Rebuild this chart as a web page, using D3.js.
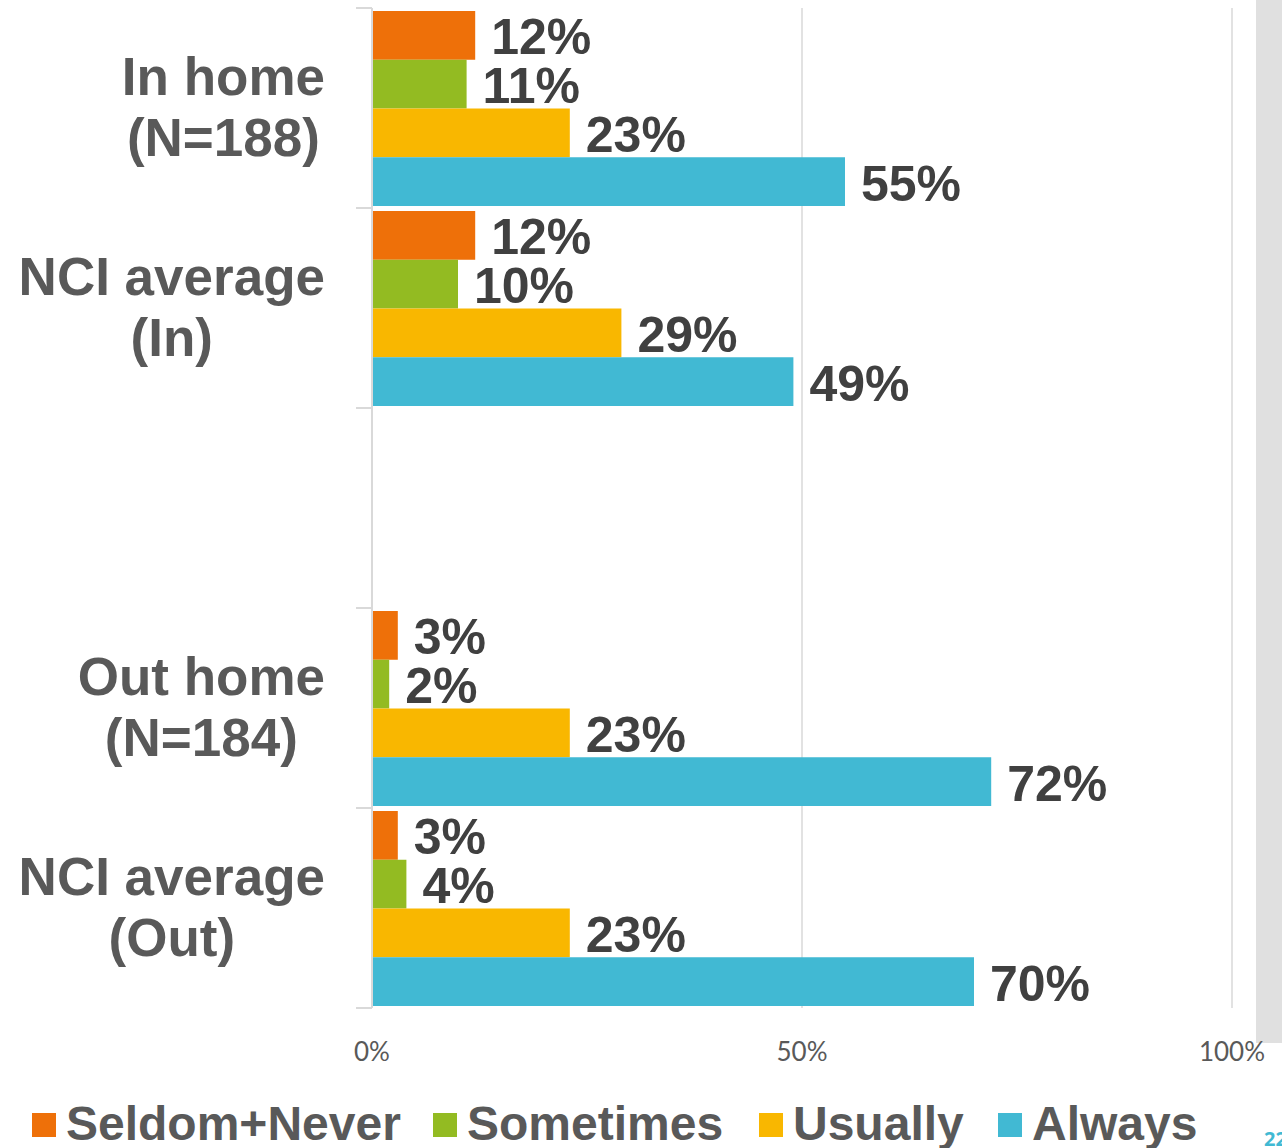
<!DOCTYPE html>
<html>
<head>
<meta charset="utf-8">
<script src="https://cdn.jsdelivr.net/npm/d3@7"></script>
<style>
  body { margin: 0; background: #fff; }
  svg { display: block; }
</style>
</head>
<body>
<script>
// categories (empty slot keeps the gap between the In and Out groups)
const categories = ["In home (N=188)", "NCI average (In)", "gap", "Out home (N=184)", "NCI average (Out)"];
const categoryLines = [["In home", "(N=188)"], ["NCI average", "(In)"], [], ["Out home", "(N=184)"], ["NCI average", "(Out)"]];
const seriesNames = ["Seldom+Never", "Sometimes", "Usually", "Always"];
const seldomNever = [12, 12, null, 3, 3];
const sometimes = [11, 10, null, 2, 4];
const usually = [23, 29, null, 23, 23];
const always = [55, 49, null, 72, 70];
const xTicks = [0, 50, 100];

const colors = ["#ee7009", "#93bb22", "#f9b700", "#41b9d3"];
const seriesValues = [seldomNever, sometimes, usually, always];

const width = 1282, height = 1148;
const svg = d3.select("body").append("svg")
    .attr("width", width)
    .attr("height", height);

// grey strip on the right edge
svg.append("rect")
    .attr("x", 1256).attr("y", 0)
    .attr("width", 26).attr("height", 1043)
    .attr("fill", "#e0e0e0");

const x = d3.scaleLinear().domain([0, 100]).range([372, 1232]);
const y = d3.scaleBand().domain(categories).range([8, 1008]);
const ySub = d3.scaleBand().domain(seriesNames).range([3, y.bandwidth() - 2]);

// gridlines
svg.append("g")
    .selectAll("line")
    .data(xTicks.filter(d => d > 0))
    .join("line")
    .attr("x1", d => x(d)).attr("x2", d => x(d))
    .attr("y1", 8).attr("y2", 1008)
    .attr("stroke", "#d9d9d9")
    .attr("stroke-width", 1.5);

// x tick labels
svg.append("g")
    .selectAll("text")
    .data(xTicks)
    .join("text")
    .attr("x", d => x(d))
    .attr("y", 1061)
    .attr("text-anchor", "middle")
    .attr("font-family", "Lato, 'Open Sans', sans-serif")
    .attr("font-size", 26)
    .attr("fill", "#595959")
    .text(d => d + "%");

// bars
const rows = [];
categories.forEach((c, i) => {
  seriesNames.forEach((s, j) => {
    const v = seriesValues[j][i];
    if (v != null) rows.push({cat: c, series: s, value: v, color: colors[j]});
  });
});

const bar = svg.append("g")
    .selectAll("g")
    .data(rows)
    .join("g")
    .attr("transform", d => `translate(0,${y(d.cat) + ySub(d.series)})`);

bar.append("rect")
    .attr("x", x(0))
    .attr("y", 0)
    .attr("width", d => x(d.value) - x(0))
    .attr("height", ySub.bandwidth())
    .attr("fill", d => d.color);

bar.append("text")
    .attr("x", d => x(d.value) + 16)
    .attr("y", ySub.bandwidth() / 2 + 19)
    .attr("font-family", "'Liberation Sans', Arial, sans-serif")
    .attr("font-weight", "bold")
    .attr("font-size", 50)
    .attr("fill", "#404040")
    .text(d => d.value + "%");

// category axis line + ticks at band edges
const axis = svg.append("g").attr("stroke", "#d9d9d9").attr("stroke-width", 2);
axis.append("line")
    .attr("x1", x(0)).attr("x2", x(0))
    .attr("y1", y.range()[0]).attr("y2", y.range()[1]);
axis.selectAll("line.tick")
    .data(categories.map(c => y(c)).concat([y.range()[1]]))
    .join("line")
    .attr("class", "tick")
    .attr("x1", x(0) - 16).attr("x2", x(0))
    .attr("y1", d => d).attr("y2", d => d);

// category labels: block right-aligned at 325, lines centred within it
const labelRight = 325;
svg.append("g")
    .selectAll("text")
    .data(categories)
    .join("text")
    .attr("text-anchor", "middle")
    .attr("font-family", "'Liberation Sans', Arial, sans-serif")
    .attr("font-weight", "bold")
    .attr("font-size", 53)
    .attr("fill", "#595959")
    .each(function(c, i) {
      const lines = categoryLines[i];
      const cy = y(c) + y.bandwidth() / 2;
      const spans = d3.select(this).selectAll("tspan")
        .data(lines)
        .join("tspan")
        .attr("y", (d, k) => cy + (k - (lines.length - 1) / 2) * 61 + 17)
        .text(d => d);
      let maxW = 0;
      spans.each(function() { maxW = Math.max(maxW, this.getComputedTextLength()); });
      spans.attr("x", labelRight - maxW / 2);
    });

// legend
const legendX = [32, 433, 759, 998];
const legend = svg.append("g")
    .selectAll("g")
    .data(seriesNames)
    .join("g")
    .attr("transform", (d, i) => `translate(${legendX[i]},1113)`);
legend.append("rect")
    .attr("width", 24).attr("height", 24)
    .attr("fill", (d, i) => colors[i]);
legend.append("text")
    .attr("x", 34).attr("y", 27)
    .attr("font-family", "'Liberation Sans', Arial, sans-serif")
    .attr("font-weight", "bold")
    .attr("font-size", 48)
    .attr("fill", "#595959")
    .text(d => d);

// page number peeking in at the corner
svg.append("text")
    .attr("x", 1264).attr("y", 1146)
    .attr("font-family", "'Open Sans', sans-serif")
    .attr("font-weight", "bold")
    .attr("font-size", 20)
    .attr("fill", "#41b9d3")
    .text("22");
</script>
</body>
</html>
